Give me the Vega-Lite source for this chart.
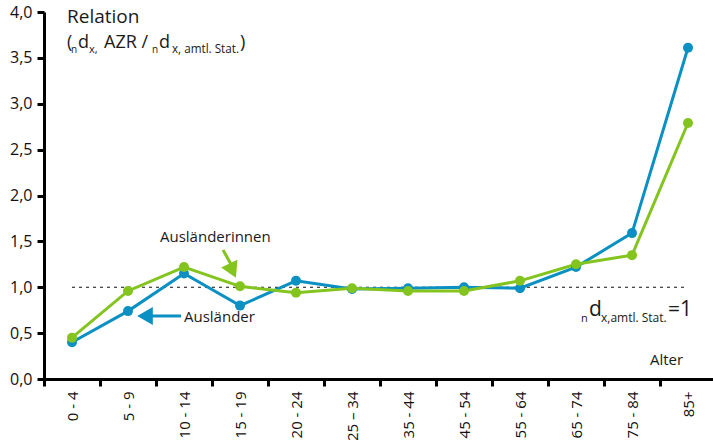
{
  "$schema": "https://vega.github.io/schema/vega-lite/v6.json",
  "width": 672,
  "height": 367,
  "autosize": "none",
  "padding": {"left": 44, "top": 12, "right": 0, "bottom": 61},
  "config": {
    "view": {"stroke": null},
    "font": "Open Sans",
    "text": {"font": "Open Sans", "color": "#1a1a1a"}
  },
  "data": {"values": [{}]},
  "datasets": {
    "series": [
      {"age": "0 - 4", "group": "Ausländer", "value": 0.40},
      {"age": "5 - 9", "group": "Ausländer", "value": 0.74},
      {"age": "10 - 14", "group": "Ausländer", "value": 1.15},
      {"age": "15 - 19", "group": "Ausländer", "value": 0.80},
      {"age": "20 - 24", "group": "Ausländer", "value": 1.07},
      {"age": "25 – 34", "group": "Ausländer", "value": 0.98},
      {"age": "35 - 44", "group": "Ausländer", "value": 0.99},
      {"age": "45 - 54", "group": "Ausländer", "value": 1.00},
      {"age": "55 - 64", "group": "Ausländer", "value": 0.99},
      {"age": "65 - 74", "group": "Ausländer", "value": 1.22},
      {"age": "75 - 84", "group": "Ausländer", "value": 1.59},
      {"age": "85+", "group": "Ausländer", "value": 3.61},
      {"age": "0 - 4", "group": "Ausländerinnen", "value": 0.45},
      {"age": "5 - 9", "group": "Ausländerinnen", "value": 0.96},
      {"age": "10 - 14", "group": "Ausländerinnen", "value": 1.22},
      {"age": "15 - 19", "group": "Ausländerinnen", "value": 1.01},
      {"age": "20 - 24", "group": "Ausländerinnen", "value": 0.94},
      {"age": "25 – 34", "group": "Ausländerinnen", "value": 0.99},
      {"age": "35 - 44", "group": "Ausländerinnen", "value": 0.96},
      {"age": "45 - 54", "group": "Ausländerinnen", "value": 0.96},
      {"age": "55 - 64", "group": "Ausländerinnen", "value": 1.07},
      {"age": "65 - 74", "group": "Ausländerinnen", "value": 1.25},
      {"age": "75 - 84", "group": "Ausländerinnen", "value": 1.35},
      {"age": "85+", "group": "Ausländerinnen", "value": 2.79}
    ]
  },
  "layer": [
    {
      "mark": {"type": "rule", "strokeDash": [3, 4], "strokeWidth": 1, "color": "#111"},
      "encoding": {"x": {"datum": "0 - 4"}, "x2": {"datum": "85+"}, "y": {"datum": 1}}
    },
    {
      "data": {"name": "series"},
      "mark": {"type": "line", "strokeWidth": 3, "point": {"size": 100, "filled": true, "opacity": 1}},
      "encoding": {
        "x": {
          "field": "age", "type": "nominal", "sort": null,
          "scale": {"type": "band", "paddingInner": 0, "paddingOuter": 0,
            "domain": ["0 - 4", "5 - 9", "10 - 14", "15 - 19", "20 - 24", "25 – 34", "35 - 44", "45 - 54", "55 - 64", "65 - 74", "75 - 84", "85+"]},
          "axis": {
            "title": null, "tickBand": "extent", "labelAngle": -90, "labelAlign": "right", "labelBaseline": "middle",
            "labelFontSize": 15, "labelColor": "#111", "labelPadding": 5, "ticks": true, "tickSize": 7, "tickWidth": 3,
            "tickColor": "#000", "domainColor": "#000", "domainWidth": 3, "grid": false
          }
        },
        "y": {
          "field": "value", "type": "quantitative",
          "scale": {"domain": [0, 4], "nice": false, "zero": true},
          "axis": {
            "title": null, "values": [0, 0.5, 1, 1.5, 2, 2.5, 3, 3.5, 4],
            "labelExpr": "replace(format(datum.value, '.1f'), '.', ',')",
            "labelFontSize": 16, "labelColor": "#111", "labelPadding": 5, "ticks": true, "tickSize": 7, "tickWidth": 3,
            "tickColor": "#000", "domainColor": "#000", "domainWidth": 3, "grid": false
          }
        },
        "color": {
          "field": "group", "type": "nominal",
          "scale": {"domain": ["Ausländer", "Ausländerinnen"], "range": ["#0a90c2", "#84c41e"]},
          "legend": null
        }
      }
    },
    {
      "mark": {"type": "rule", "strokeWidth": 3, "color": "#0a90c2", "xOffset": 22, "x2Offset": 53},
      "encoding": {"x": {"datum": "5 - 9"}, "x2": {"datum": "5 - 9"}, "y": {"datum": 0.687}}
    },
    {
      "mark": {"type": "point", "shape": "triangle-left", "size": 324, "filled": true, "opacity": 1, "color": "#0a90c2", "xOffset": 17},
      "encoding": {"x": {"datum": "5 - 9"}, "y": {"datum": 0.687}}
    },
    {
      "mark": {"type": "rule", "strokeWidth": 3, "color": "#84c41e", "xOffset": -17, "x2Offset": -8},
      "encoding": {"x": {"datum": "15 - 19"}, "x2": {"datum": "15 - 19"}, "y": {"datum": 1.406}, "y2": {"datum": 1.232}}
    },
    {
      "mark": {"type": "point", "shape": "triangle-up", "angle": 155, "size": 324, "filled": true, "opacity": 1, "color": "#84c41e", "xOffset": -7.4},
      "encoding": {"x": {"datum": "15 - 19"}, "y": {"datum": 1.181}}
    },
    {
      "mark": {"type": "text", "text": "Ausländerinnen", "align": "left", "baseline": "alphabetic", "fontSize": 15, "dx": 88, "dy": 1},
      "encoding": {"x": {"datum": "0 - 4"}, "y": {"datum": 1.5}}
    },
    {
      "mark": {"type": "text", "text": "Ausländer", "align": "left", "baseline": "alphabetic", "fontSize": 15, "dx": 112, "dy": -11},
      "encoding": {"x": {"datum": "0 - 4"}, "y": {"datum": 0.5}}
    },
    {
      "mark": {"type": "text", "text": "Relation", "align": "left", "baseline": "alphabetic", "fontSize": 19, "dx": -5, "dy": 11},
      "encoding": {"x": {"datum": "0 - 4"}, "y": {"datum": 4}}
    },
    {
      "mark": {"type": "text", "text": "(", "align": "left", "baseline": "alphabetic", "fontSize": 18, "dx": -5, "dy": 36},
      "encoding": {"x": {"datum": "0 - 4"}, "y": {"datum": 4}}
    },
    {
      "mark": {"type": "text", "text": "n", "align": "left", "baseline": "alphabetic", "fontSize": 10, "dx": -1, "dy": 41},
      "encoding": {"x": {"datum": "0 - 4"}, "y": {"datum": 4}}
    },
    {
      "mark": {"type": "text", "text": "d", "align": "left", "baseline": "alphabetic", "fontSize": 18, "dx": 6, "dy": 36},
      "encoding": {"x": {"datum": "0 - 4"}, "y": {"datum": 4}}
    },
    {
      "mark": {"type": "text", "text": "x,", "align": "left", "baseline": "alphabetic", "fontSize": 11, "dx": 17, "dy": 41},
      "encoding": {"x": {"datum": "0 - 4"}, "y": {"datum": 4}}
    },
    {
      "mark": {"type": "text", "text": "AZR /", "align": "left", "baseline": "alphabetic", "fontSize": 18, "dx": 32, "dy": 36},
      "encoding": {"x": {"datum": "0 - 4"}, "y": {"datum": 4}}
    },
    {
      "mark": {"type": "text", "text": "n", "align": "left", "baseline": "alphabetic", "fontSize": 10, "dx": 80, "dy": 41},
      "encoding": {"x": {"datum": "0 - 4"}, "y": {"datum": 4}}
    },
    {
      "mark": {"type": "text", "text": "d", "align": "left", "baseline": "alphabetic", "fontSize": 18, "dx": 87, "dy": 36},
      "encoding": {"x": {"datum": "0 - 4"}, "y": {"datum": 4}}
    },
    {
      "mark": {"type": "text", "text": "x, amtl. Stat.", "align": "left", "baseline": "alphabetic", "fontSize": 11.7, "dx": 100, "dy": 41},
      "encoding": {"x": {"datum": "0 - 4"}, "y": {"datum": 4}}
    },
    {
      "mark": {"type": "text", "text": ")", "align": "left", "baseline": "alphabetic", "fontSize": 18, "dx": 168, "dy": 36},
      "encoding": {"x": {"datum": "0 - 4"}, "y": {"datum": 4}}
    },
    {
      "mark": {"type": "text", "text": "n", "align": "left", "baseline": "alphabetic", "fontSize": 11, "dx": -107, "dy": 35},
      "encoding": {"x": {"datum": "85+"}, "y": {"datum": 1}}
    },
    {
      "mark": {"type": "text", "text": "d", "align": "left", "baseline": "alphabetic", "fontSize": 21, "dx": -99, "dy": 29},
      "encoding": {"x": {"datum": "85+"}, "y": {"datum": 1}}
    },
    {
      "mark": {"type": "text", "text": "x,amtl. Stat.", "align": "left", "baseline": "alphabetic", "fontSize": 12, "dx": -87, "dy": 35},
      "encoding": {"x": {"datum": "85+"}, "y": {"datum": 1}}
    },
    {
      "mark": {"type": "text", "text": "=1", "align": "left", "baseline": "alphabetic", "fontSize": 21, "dx": -20, "dy": 29},
      "encoding": {"x": {"datum": "85+"}, "y": {"datum": 1}}
    },
    {
      "mark": {"type": "text", "text": "Alter", "align": "left", "baseline": "alphabetic", "fontSize": 15, "dx": -38, "dy": -14},
      "encoding": {"x": {"datum": "85+"}, "y": {"datum": 0}}
    }
  ]
}
